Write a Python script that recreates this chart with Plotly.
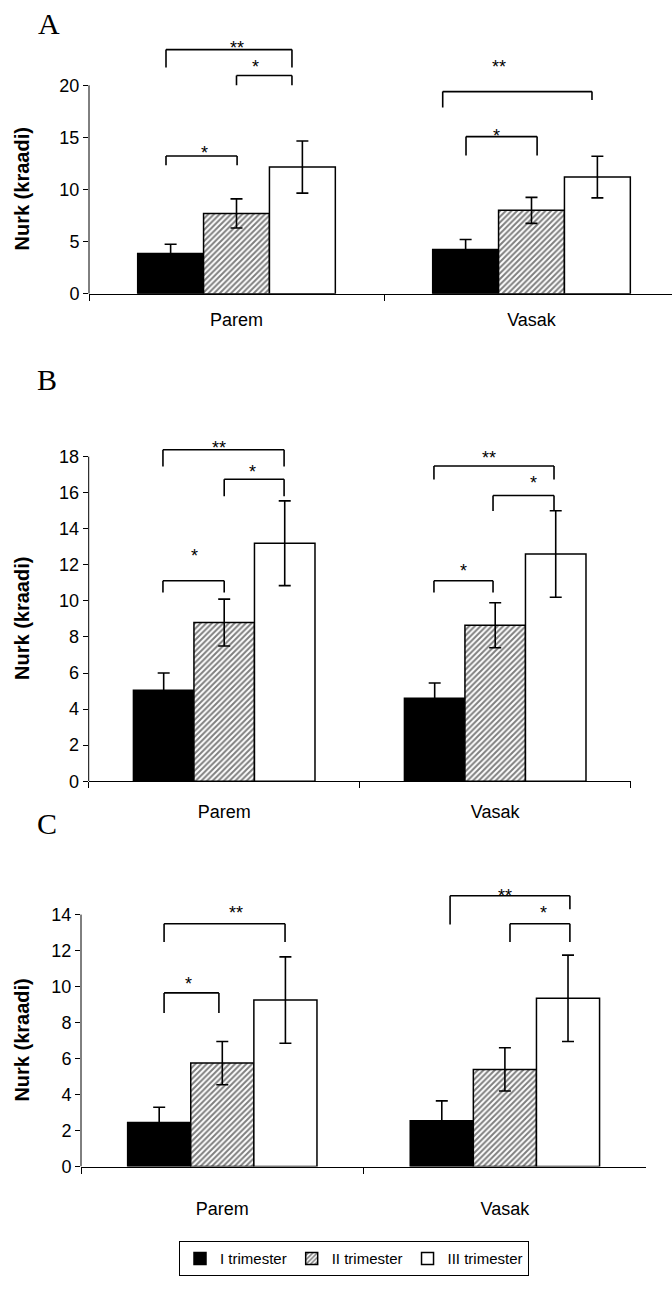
import plotly.graph_objects as go

# ---------------- data ----------------
categories = ["Parem", "Vasak"]
series_names = ["I trimester", "II trimester", "III trimester"]

# Panel A
a_i = [3.85, 4.25]
a_ii = [7.7, 8.0]
a_iii = [12.15, 11.2]
a_i_err = [0.9, 0.95]
a_ii_err = [1.4, 1.25]
a_iii_err = [2.5, 2.0]

# Panel B
b_i = [5.05, 4.6]
b_ii = [8.8, 8.65]
b_iii = [13.2, 12.6]
b_i_err = [0.95, 0.85]
b_ii_err = [1.3, 1.25]
b_iii_err = [2.35, 2.4]

# Panel C
c_i = [2.45, 2.55]
c_ii = [5.75, 5.4]
c_iii = [9.25, 9.35]
c_i_err = [0.85, 1.1]
c_ii_err = [1.2, 1.2]
c_iii_err = [2.4, 2.4]

y_ticks_a = [0, 5, 10, 15, 20]
y_ticks_b = [0, 2, 4, 6, 8, 10, 12, 14, 16, 18]
y_ticks_c = [0, 2, 4, 6, 8, 10, 12, 14]

y_title = "Nurk (kraadi)"
panel_letters = ["A", "B", "C"]

# significance brackets: (x_left, x_right, y_top, y_left_end, y_right_end, label, label_x, label_y)
brackets_a = [
    (-0.239, 0.188, 23.43, 21.71, 21.71, "**", 0.0, 24.1),
    (0.0, 0.188, 20.95, 20.0, 20.0, "*", 0.066, 22.2),
    (-0.239, 0.002, 13.21, 12.32, 12.32, "*", -0.107, 14.0),
    (0.699, 1.205, 19.4, 17.87, 18.6, "**", 0.89, 22.2),
    (0.778, 1.019, 15.08, 13.27, 13.27, "*", 0.883, 15.6),
]
brackets_b = [
    (-0.226, 0.221, 18.38, 17.46, 17.46, "**", -0.019, 18.75),
    (0.0, 0.221, 16.75, 15.81, 15.81, "*", 0.103, 17.43),
    (-0.226, 0.0, 11.12, 10.46, 10.46, "*", -0.108, 12.79),
    (0.774, 1.217, 17.48, 16.73, 16.73, "**", 0.977, 18.2),
    (0.992, 1.217, 15.85, 14.99, 14.99, "*", 1.141, 16.82),
    (0.774, 0.992, 11.12, 10.46, 10.46, "*", 0.884, 11.92),
]
brackets_c = [
    (-0.206, 0.222, 13.49, 12.48, 12.48, "**", 0.048, 14.37),
    (-0.206, -0.012, 9.65, 8.54, 8.54, "*", -0.121, 10.42),
    (0.806, 1.230, 15.05, 13.45, 14.3, "**", 1.0, 15.3),
    (1.018, 1.230, 13.49, 12.48, 12.48, "*", 1.136, 14.37),
]

# ---------------- styling ----------------
SANS = "Arial, Liberation Sans, sans-serif"
SERIF = "Times New Roman, Liberation Serif, serif"
W, H = 672, 1290

fig = go.Figure()

panels = [
    ("x", "y", [a_i, a_ii, a_iii], [a_i_err, a_ii_err, a_iii_err], brackets_a),
    ("x2", "y2", [b_i, b_ii, b_iii], [b_i_err, b_ii_err, b_iii_err], brackets_b),
    ("x3", "y3", [c_i, c_ii, c_iii], [c_i_err, c_ii_err, c_iii_err], brackets_c),
]

marker_styles = [
    dict(color="black", line=dict(color="black", width=1.5)),
    dict(color="white", line=dict(color="black", width=1.5),
         pattern=dict(shape="/", fgcolor="black", bgcolor="white", size=4, solidity=0.5)),
    dict(color="white", line=dict(color="black", width=1.5)),
]

for p_idx, (xa, ya, vals, errs, brs) in enumerate(panels):
    for s_idx in range(3):
        fig.add_trace(go.Bar(
            x=categories, y=vals[s_idx], name=series_names[s_idx],
            xaxis=xa, yaxis=ya,
            marker=marker_styles[s_idx],
            error_y=dict(type="data", array=errs[s_idx], visible=True,
                         color="black", thickness=1.6, width=6),
            showlegend=(p_idx == 0),
            legendgroup=series_names[s_idx],
            hoverinfo="skip",
        ))
    for (x0, x1, yt, yl, yr, lab, lx, ly) in brs:
        for (sx0, sy0, sx1, sy1) in [(x0, yl, x0, yt), (x0, yt, x1, yt), (x1, yt, x1, yr)]:
            fig.add_shape(type="line", xref=xa, yref=ya,
                          x0=sx0, y0=sy0, x1=sx1, y1=sy1,
                          line=dict(color="black", width=1.6))
        fig.add_annotation(x=lx, y=ly, xref=xa, yref=ya, text=lab,
                           showarrow=False, yshift=-5,
                           font=dict(family=SANS, size=18, color="black"))

# panel geometry in pixels
geo = {
    "A": dict(left=89, right=672, bottom=296, px_per_unit=10.5, catw=295, ymax_range=25.5,
              ticks=y_ticks_a, standoff=10),
    "B": dict(left=88.7, right=630.7, bottom=787.3, px_per_unit=18.17, catw=271, ymax_range=19.5,
              ticks=y_ticks_b, standoff=14),
    "C": dict(left=81, right=646, bottom=1175.7, px_per_unit=18.14, catw=282.6, ymax_range=16.0,
              ticks=y_ticks_c, standoff=26),
}

axis_names = [("xaxis", "yaxis", "x", "y"), ("xaxis2", "yaxis2", "x2", "y2"), ("xaxis3", "yaxis3", "x3", "y3")]
letter_pos = [(49, 24), (47, 382), (47, 830)]

layout_axes = {}
for i, key in enumerate(["A", "B", "C"]):
    g = geo[key]
    xname, yname, xr, yr = axis_names[i]
    top_px = g["bottom"] - g["ymax_range"] * g["px_per_unit"]
    xmax = -0.5 + (g["right"] - g["left"]) / g["catw"]
    layout_axes[xname] = dict(
        domain=[g["left"] / W, g["right"] / W],
        anchor=yr, type="category", range=[-0.5, xmax],
        showline=True, linecolor="black", linewidth=1,
        ticks="outside", tickson="boundaries", ticklen=6, tickcolor="black", tickwidth=1,
        tickfont=dict(family=SANS, size=18, color="black"),
        ticklabelstandoff=g["standoff"],
        showgrid=False, zeroline=False, fixedrange=True,
    )
    layout_axes[yname] = dict(
        domain=[1 - g["bottom"] / H, 1 - top_px / H],
        anchor=xr, range=[0, g["ymax_range"]],
        tickvals=g["ticks"], ticktext=[str(t) for t in g["ticks"]],
        ticks="outside", ticklen=5, tickcolor="black", tickwidth=1,
        tickfont=dict(family=SANS, size=18, color="black"),
        showline=False, showgrid=False, zeroline=False, fixedrange=True,
    )
    # visible y-axis line only up to the last tick
    fig.add_shape(type="line", xref=f"{xr} domain", yref=yr,
                  x0=0, x1=0, y0=0, y1=g["ticks"][-1],
                  line=dict(color="black", width=1))
    # y-axis title
    fig.add_annotation(xref="paper", yref=yr, x=22 / W, y=g["ticks"][-1] / 2,
                       text=f"<b>{y_title}</b>", textangle=-90, showarrow=False,
                       xanchor="center", yanchor="middle",
                       font=dict(family=SANS, size=20, color="black"))
    lx, ly = letter_pos[i]
    fig.add_annotation(xref="paper", yref="paper", x=lx / W, y=1 - ly / H,
                       text=panel_letters[i], showarrow=False,
                       xanchor="center", yanchor="middle",
                       font=dict(family=SERIF, size=30, color="black"))

fig.update_layout(
    width=W, height=H,
    margin=dict(l=0, r=0, t=0, b=0),
    paper_bgcolor="white", plot_bgcolor="white",
    barmode="group", bargap=0.33, bargroupgap=0,
    showlegend=True, hovermode=False,
    legend=dict(orientation="h", x=354 / W, xanchor="center",
                y=1 - 1251 / H, yanchor="top",
                bordercolor="black", borderwidth=1,
                font=dict(family=SANS, size=15, color="black"),
                itemwidth=30, traceorder="normal",
                tracegroupgap=0),
    **layout_axes,
)

post = (
    "document.documentElement.style.margin='0px';"
    "document.body.style.margin='0px';"
)
fig.write_html("out.html", config={"displayModeBar": False, "staticPlot": True},
               post_script=post)
